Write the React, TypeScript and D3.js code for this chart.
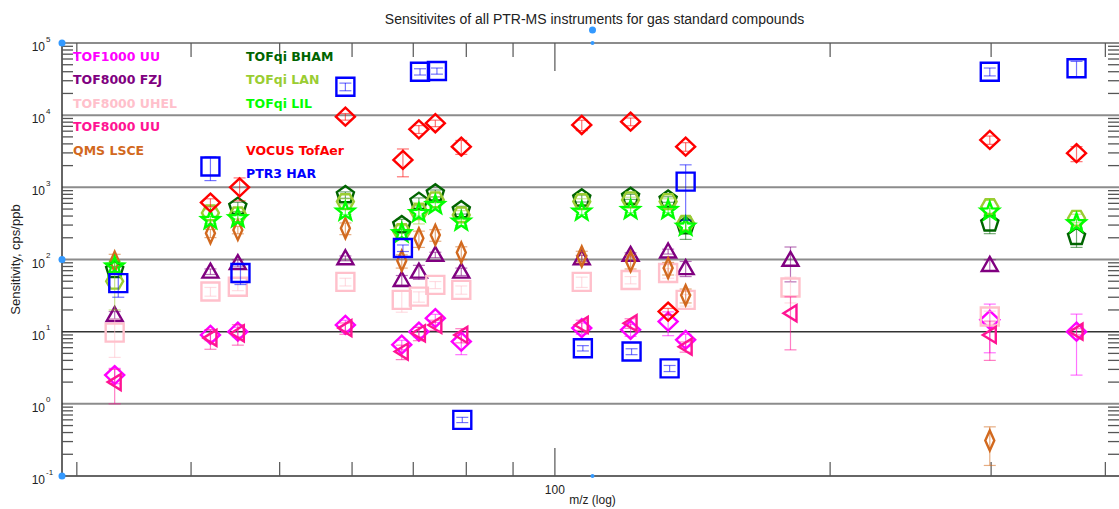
import * as d3 from 'd3';

// [m/z, sensitivity cps/ppb, error] per instrument
const tof1000UU: [number, number, number][] = [
  [33, 2.5, 0.6], [42, 9.0, 1.5], [45, 10, 1.5], [59, 12.4, 2], [68, 6.6, 1], [71, 10, 1.5],
  [74, 15.4, 2], [79, 7.3, 2.5], [107, 11.2, 2], [121, 10.6, 2], [133, 13.8, 5], [139, 7.7, 1.5],
  [299, 14.6, 9.5], [372, 10, 7.5],
];
const tof8000FZJ: [number, number, number][] = [
  [33, 17, 2], [42, 68, 6], [45, 89, 10], [59, 104, 8], [68, 52, 8], [71, 68, 15], [74, 116, 10],
  [79, 68, 8], [107, 104, 10], [121, 116, 8], [133, 129, 10], [139, 76, 18], [181, 99, 50], [299, 84, 15],
];
const tof8000UHEL: [number, number, number][] = [
  [33, 9.7, 5.3], [42, 36, 5], [45, 42, 5], [59, 49, 6], [68, 27.6, 9], [71, 30.6, 5], [74, 44.5, 5],
  [79, 38, 5], [107, 49, 8], [121, 52, 6], [133, 65, 10], [139, 27.6, 5], [181, 41, 16], [299, 16.2, 3],
];
const tof8000UU: [number, number, number][] = [
  [33, 2.0, 1.0], [42, 8.2, 2.5], [45, 9.5, 3], [59, 11.2, 2], [68, 5.3, 1.2], [71, 9.5, 2], [74, 12.4, 2],
  [79, 9, 2], [107, 12.4, 2], [121, 13.1, 2], [139, 6.2, 1], [181, 18, 12.4], [299, 9, 5], [372, 10, 1],
];
const qmsLSCE: [number, number, number][] = [
  [33, 93, 25], [42, 231, 30], [45, 257, 30], [59, 271, 50], [68, 96, 20], [71, 197, 50], [74, 219, 40],
  [79, 125, 25], [107, 110, 20], [121, 94, 20], [133, 76, 15], [139, 32, 7], [299, 0.31, 0.17],
];
const tofqiBHAM: [number, number, number][] = [
  [33, 72, 8], [45, 540, 80], [59, 785, 80], [68, 301, 60], [71, 634, 80], [74, 828, 90], [79, 486, 60],
  [107, 706, 80], [121, 740, 60], [133, 680, 60], [139, 290, 100], [299, 318, 90], [372, 207, 60],
];
const tofqiLAN: [number, number, number][] = [
  [33, 50, 30], [42, 442, 50], [45, 415, 50], [59, 634, 60], [68, 244, 50], [71, 461, 150], [74, 670, 60],
  [79, 415, 60], [107, 634, 60], [121, 670, 60], [133, 634, 60], [139, 318, 60], [299, 540, 120], [372, 373, 50],
];
const tofqiLIL: [number, number, number][] = [
  [33, 80, 15], [42, 353, 40], [45, 373, 40], [59, 461, 40], [68, 231, 30], [71, 440, 40], [74, 570, 50],
  [79, 335, 40], [107, 461, 40], [121, 486, 40], [133, 486, 40], [139, 285, 40], [299, 461, 50], [372, 318, 40],
];
const vocusTofAer: [number, number, number][] = [
  [42, 614, 80], [45.2, 1000, 350], [59, 9530, 1000], [68.2, 2400, 1000], [71, 6370, 800], [74, 7730, 800],
  [79, 3660, 800], [107, 7310, 1200], [121, 8130, 1000], [133, 19, 2], [139, 3660, 500], [299, 4540, 600], [372, 2970, 700],
];
const ptr3HAR: [number, number, number][] = [
  [33.3, 47, 17], [42, 1940, 700], [45.3, 65, 20], [59, 24800, 3000], [68.2, 144, 15], [71.2, 40000, 4000],
  [74.3, 41000, 4000], [79.2, 0.6, 0.05], [107.3, 5.9, 0.5], [121.3, 5.3, 0.5], [133.5, 3.1, 0.3],
  [139, 1200, 850], [299, 40000, 5000], [372, 44600, 11000],
];

const seriesNames = ['TOF1000 UU', 'TOF8000 FZJ', 'TOF8000 UHEL', 'TOF8000 UU', 'QMS LSCE',
  'TOFqi BHAM', 'TOFqi LAN', 'TOFqi LIL', 'VOCUS TofAer', 'PTR3 HAR'];
const seriesData = [tof1000UU, tof8000FZJ, tof8000UHEL, tof8000UU, qmsLSCE,
  tofqiBHAM, tofqiLAN, tofqiLIL, vocusTofAer, ptr3HAR];
const seriesColors = ['#ff00ff', '#800080', '#ffc0cb', '#ff1493', '#d2691e',
  '#006400', '#9acd32', '#00ff00', '#ff0000', '#0000ff'];
const seriesMarkers = ['diamond', 'triUp', 'square', 'triLeft', 'thinDiamond',
  'pentagon', 'hexagon', 'star', 'diamond', 'square'];

// legend slots, two columns of six (null = empty slot)
const legendSlots = ['TOF1000 UU', 'TOF8000 FZJ', 'TOF8000 UHEL', 'TOF8000 UU', 'QMS LSCE', null,
  'TOFqi BHAM', 'TOFqi LAN', 'TOFqi LIL', null, 'VOCUS TofAer', 'PTR3 HAR'];

const xMinorTicks = [30, 40, 50, 60, 70, 80, 90, 200, 300, 400];
const xMajorTicks = [100];
const yDecades = [-1, 0, 1, 2, 3, 4, 5];

const W = 1119, H = 509;
const margin = { left: 62, right: 0, top: 43, bottom: 33 };

function polygon(n: number, r: number, rot: number) {
  const pts = d3.range(n).map(i => {
    const a = rot + (i * 2 * Math.PI) / n;
    return [r * Math.cos(a), r * Math.sin(a)];
  });
  return 'M' + pts.map(p => p.join(',')).join('L') + 'Z';
}

function star(ro: number, ri: number) {
  const pts = d3.range(10).map(i => {
    const a = -Math.PI / 2 + (i * Math.PI) / 5;
    const r = i % 2 === 0 ? ro : ri;
    return [r * Math.cos(a), r * Math.sin(a)];
  });
  return 'M' + pts.map(p => p.join(',')).join('L') + 'Z';
}

const markerPath: Record<string, string> = {
  diamond: 'M0,-9L9.5,0L0,9L-9.5,0Z',
  thinDiamond: 'M0,-10L4.5,0L0,10L-4.5,0Z',
  square: 'M-9,-9L9,-9L9,9L-9,9Z',
  triUp: 'M0,-8L8,6L-8,6Z',
  triLeft: 'M-7,0L6,-8L6,8Z',
  pentagon: polygon(5, 9, -Math.PI / 2),
  hexagon: polygon(6, 8.5, 0),
  star: star(9.5, 4),
};

export default function App() {
  const x = d3.scaleLog().domain([28.9, 414]).range([margin.left, W - margin.right]);
  const y = d3.scaleLog().domain([0.1, 1e5]).range([H - margin.bottom, margin.top]);
  const [x0, x1] = x.range();
  const [yb, yt] = y.range();
  const xMid = (x0 + x1) / 2 + 2;
  const yMinor: number[] = [];
  yDecades.slice(0, -1).forEach(k => {
    for (let m = 2; m <= 9; m++) yMinor.push(m * Math.pow(10, k));
  });

  return (
    <svg width={W} height={H} style={{ position: 'absolute', left: 0, top: 0, background: '#fff' }}
      fontFamily="Liberation Sans, Arial, sans-serif">
      <text x={xMid + 2} y={24} textAnchor="middle" fontSize={14} fill="#222">
        Sensitivites of all PTR-MS instruments for gas standard compounds
      </text>

      {/* decade grid lines */}
      {yDecades.map(k => (
        <line key={k} x1={x0} x2={x1} y1={y(Math.pow(10, k))} y2={y(Math.pow(10, k))}
          stroke={k === 1 || k === -1 ? '#333' : '#8c8c8c'} strokeWidth={k === 1 || k === -1 ? 1.5 : 2} />
      ))}
      <line x1={x0} x2={x0} y1={yt} y2={yb} stroke="#333" strokeWidth={1.5} />

      {/* y minor ticks */}
      {yMinor.map((v, i) => (
        <g key={i} stroke="#555" strokeWidth={1.3}>
          <line x1={x0} x2={x0 + 11} y1={y(v)} y2={y(v)} />
          <line x1={x1 - 11} x2={x1} y1={y(v)} y2={y(v)} />
        </g>
      ))}

      {/* x ticks */}
      {xMinorTicks.map(t => (
        <g key={t} stroke="#555" strokeWidth={1.2}>
          <line x1={x(t)} x2={x(t)} y1={yb} y2={yb - 14} />
          <line x1={x(t)} x2={x(t)} y1={yt} y2={yt + 14} />
        </g>
      ))}
      {xMajorTicks.map(t => (
        <g key={t}>
          <g stroke="#555" strokeWidth={1.2}>
            <line x1={x(t)} x2={x(t)} y1={yb} y2={yb - 28} />
            <line x1={x(t)} x2={x(t)} y1={yt} y2={yt + 28} />
          </g>
          <text x={x(t)} y={yb + 18} textAnchor="middle" fontSize={12} fill="#222">{t}</text>
        </g>
      ))}

      {/* y tick labels */}
      {yDecades.map(k => (
        <text key={k} x={45} y={y(Math.pow(10, k)) + 8} textAnchor="end" fontSize={12} fill="#222">
          10
          <tspan x={46} y={y(Math.pow(10, k)) - 1.5} fontSize={8} textAnchor="start">{k}</tspan>
        </text>
      ))}

      <text x={xMid} y={H - 5} textAnchor="middle" fontSize={12} fill="#222">m/z (log)</text>
      <text transform={`translate(20,${(yt + yb) / 2}) rotate(-90)`} textAnchor="middle" fontSize={13} fill="#222">
        Sensitivity, cps/ppb
      </text>

      {/* series */}
      {seriesData.map((data, si) => (
        <g key={si}>
          {data.map((d, i) => {
            const cx = x(d[0]);
            const lo = y(Math.max(0.1, d[1] - d[2]));
            const hi = y(d[1] + d[2]);
            return (
              <g key={i} stroke={seriesColors[si]} fill="none">
                <g strokeOpacity={0.55} strokeWidth={1.2}>
                  <line x1={cx} x2={cx} y1={lo} y2={hi} />
                  <line x1={cx - 6} x2={cx + 6} y1={lo} y2={lo} />
                  <line x1={cx - 6} x2={cx + 6} y1={hi} y2={hi} />
                </g>
                <path d={markerPath[seriesMarkers[si]]} transform={`translate(${cx},${y(d[1])})`}
                  strokeWidth={2.4} strokeLinejoin="miter" />
              </g>
            );
          })}
        </g>
      ))}

      {/* legend */}
      {legendSlots.map((name, i) => name === null ? null : (
        <text key={name} x={73 + Math.floor(i / 6) * 173} y={61 + (i % 6) * 23.4}
          fontFamily="DejaVu Sans, sans-serif" fontWeight="bold" fontSize={12.5}
          fill={seriesColors[seriesNames.indexOf(name)]}>{name}</text>
      ))}

      {/* axis handles */}
      {[[x0, yt], [x0, (yt + yb) / 2], [x0, yb], [xMid, 30], [xMid, yt], [xMid, yb]].map((p, i) => (
        <circle key={i} cx={p[0]} cy={p[1]} r={i === 4 || i === 5 ? 2 : 3.5} fill="#3399ff" />
      ))}
    </svg>
  );
}
